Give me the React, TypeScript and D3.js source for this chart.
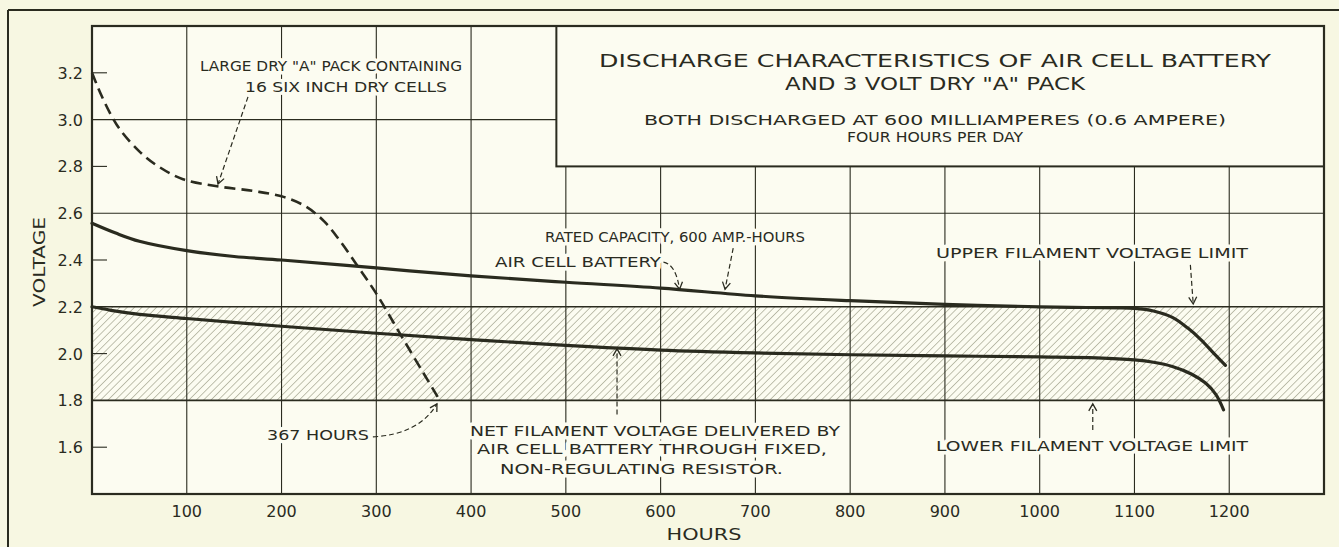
import React from "react"
import * as d3 from "d3"

const W = 1339
const H = 547

// axis
const xTicks = [100, 200, 300, 400, 500, 600, 700, 800, 900, 1000, 1100, 1200]
const yLabels = [1.6, 1.8, 2.0, 2.2, 2.4, 2.6, 2.8, 3.0, 3.2]
const gridVolts = [1.8, 2.2, 2.6, 3.0]
const shortTickVolts = [1.6, 2.0, 2.4, 2.8, 3.2]

// air cell battery (upper solid)
const airCellHours = [0, 25, 50, 100, 150, 200, 300, 400, 500, 600, 700, 800, 900, 1000, 1050, 1100, 1120, 1140, 1156, 1170, 1184, 1196]
const airCellVolts = [2.557, 2.515, 2.48, 2.44, 2.415, 2.4, 2.366, 2.332, 2.305, 2.28, 2.247, 2.226, 2.21, 2.2, 2.197, 2.193, 2.182, 2.155, 2.11, 2.06, 2.0, 1.95]

// net filament voltage (lower solid)
const netHours = [0, 20, 50, 100, 200, 300, 400, 500, 600, 700, 800, 900, 1000, 1060, 1100, 1120, 1140, 1160, 1175, 1186, 1194]
const netVolts = [2.2, 2.185, 2.168, 2.15, 2.117, 2.087, 2.06, 2.035, 2.015, 2.003, 1.995, 1.99, 1.986, 1.982, 1.973, 1.963, 1.945, 1.913, 1.874, 1.825, 1.76]

// dry "A" pack (dashed)
const dryHours = [0, 5, 10, 19, 30, 51, 70, 96, 132, 170, 200, 225, 245, 262, 281, 301, 325, 350, 367]
const dryVolts = [3.2, 3.15, 3.103, 3.028, 2.955, 2.86, 2.8, 2.745, 2.715, 2.695, 2.672, 2.63, 2.565, 2.48, 2.37, 2.25, 2.085, 1.915, 1.8]

const ink = "#2a2b1f"
const paper = "#f7f7e2"
const plotBg = "#fcfcf1"
const font = "DejaVu Sans, sans-serif"

const x = d3.scaleLinear().domain([0, 1300]).range([92, 1324])
const y = d3.scaleLinear().domain([1.4, 3.4]).range([494, 26])

const line = d3
  .line<[number, number]>()
  .x((d) => x(d[0]))
  .y((d) => y(d[1]))
  .curve(d3.curveCatmullRom.alpha(0.5))

const zip = (a: number[], b: number[]) => a.map((v, i) => [v, b[i]] as [number, number])

// annotation arrows, in data units: [from, (control), to]
const straightArrows: [number, number][][] = [
  [[164.6, 3.097], [133, 2.725]],
  [[676.6, 2.451], [668, 2.275]],
  [[1159, 2.379], [1162, 2.212]],
  [[1056, 1.674], [1056, 1.785]],
  [[554, 1.74], [554, 2.02]],
]
const curvedArrows: [number, number][][] = [
  [[603, 2.391], [616, 2.382], [620, 2.275]],
  [[296.4, 1.644], [345, 1.655], [364, 1.785]],
]

const labels = [
  { t: 'LARGE DRY "A" PACK CONTAINING', x: 200, y: 71, len: 262, size: 14 },
  { t: "16 SIX INCH DRY CELLS", x: 245, y: 92, len: 202, size: 14 },
  { t: "RATED CAPACITY, 600 AMP.-HOURS", x: 545, y: 242, len: 260, size: 14 },
  { t: "AIR CELL BATTERY", x: 495, y: 267, len: 166, size: 14 },
  { t: "UPPER FILAMENT VOLTAGE LIMIT", x: 936, y: 258, len: 312, size: 14 },
  { t: "LOWER FILAMENT VOLTAGE LIMIT", x: 936, y: 451, len: 312, size: 14 },
  { t: "367 HOURS", x: 267, y: 440, len: 102, size: 14 },
  { t: "NET FILAMENT VOLTAGE DELIVERED BY", x: 470, y: 436, len: 370, size: 14 },
  { t: "AIR CELL BATTERY THROUGH FIXED,", x: 477, y: 454, len: 350, size: 14 },
  { t: "NON-REGULATING RESISTOR.", x: 500, y: 474, len: 283, size: 14 },
]

const titleLines = [
  { t: "DISCHARGE CHARACTERISTICS OF AIR CELL BATTERY", y: 67, len: 672, size: 17 },
  { t: 'AND 3 VOLT DRY "A" PACK', y: 90, len: 300, size: 17 },
  { t: "BOTH DISCHARGED AT 600 MILLIAMPERES (0.6 AMPERE)", y: 125, len: 582, size: 14 },
  { t: "FOUR HOURS PER DAY", y: 142, len: 176, size: 14 },
]

const App = () => {
  const boxLeft = x(490)
  const boxBottom = y(2.8)
  const cx = 935

  return (
    <svg
      width={W}
      height={H}
      style={{ position: "fixed", left: 0, top: 0, display: "block", background: paper }}
      fontFamily={font}
    >
      <defs>
        <pattern id="hatch" width="5.2" height="5.2" patternUnits="userSpaceOnUse" patternTransform="rotate(45)">
          <line x1="0" y1="0" x2="0" y2="5.2" stroke="#76785d" strokeWidth="0.9" />
        </pattern>
        <marker id="arr" markerUnits="userSpaceOnUse" markerWidth="14" markerHeight="14" refX="0" refY="0" viewBox="-10 -7 14 14" orient="auto">
          <path d="M-7,-4 L0,0 L-7,4" fill="none" stroke={ink} strokeWidth="1.3" />
        </marker>
      </defs>

      {/* outer frame */}
      <line x1={8} y1={10} x2={W} y2={10} stroke={ink} strokeWidth={2} />
      <line x1={8} y1={10} x2={8} y2={H} stroke={ink} strokeWidth={2} />

      {/* plot background and hatched band */}
      <rect x={x(0)} y={y(3.4)} width={x(1300) - x(0)} height={y(1.4) - y(3.4)} fill={plotBg} />
      <rect x={x(0)} y={y(2.2)} width={x(1300) - x(0)} height={y(1.8) - y(2.2)} fill="url(#hatch)" />

      {/* grid */}
      {xTicks.map((h) => (
        <line key={"gx" + h} x1={x(h)} x2={x(h)} y1={x(h) > boxLeft ? boxBottom : y(3.4)} y2={y(1.4)} stroke={ink} strokeWidth={1.1} />
      ))}
      {gridVolts.map((v) => (
        <line key={"gy" + v} x1={x(0)} x2={v >= 2.8 ? boxLeft : x(1300)} y1={y(v)} y2={y(v)} stroke={ink} strokeWidth={v === 1.8 || v === 2.2 ? 1.6 : 1.1} />
      ))}
      {shortTickVolts.map((v) => (
        <line key={"st" + v} x1={x(0)} x2={x(0) + 15} y1={y(v)} y2={y(v)} stroke={ink} strokeWidth={1.1} />
      ))}

      {/* title box */}
      <rect x={boxLeft} y={y(3.4)} width={x(1300) - boxLeft} height={boxBottom - y(3.4)} fill={plotBg} stroke={ink} strokeWidth={2} />
      {titleLines.map((l) => (
        <text key={l.t} x={cx} y={l.y} textAnchor="middle" fontSize={l.size} fill={ink} textLength={l.len} lengthAdjust="spacingAndGlyphs">
          {l.t}
        </text>
      ))}

      {/* plot frame */}
      <rect x={x(0)} y={y(3.4)} width={x(1300) - x(0)} height={y(1.4) - y(3.4)} fill="none" stroke={ink} strokeWidth={2.2} />

      {/* labels */}
      {labels.map((l) => (
        <text
          key={l.t}
          x={l.x}
          y={l.y}
          fontSize={l.size}
          fill={ink}
          stroke={plotBg}
          strokeWidth={7}
          strokeLinejoin="round"
          paintOrder="stroke"
          textLength={l.len}
          lengthAdjust="spacingAndGlyphs"
        >
          {l.t}
        </text>
      ))}

      {/* curves */}
      <path d={line(zip(airCellHours, airCellVolts)) || ""} fill="none" stroke={ink} strokeWidth={3.2} strokeLinecap="round" />
      <path d={line(zip(netHours, netVolts)) || ""} fill="none" stroke={ink} strokeWidth={3.2} strokeLinecap="round" />
      <path d={line(zip(dryHours, dryVolts)) || ""} fill="none" stroke={ink} strokeWidth={2.6} strokeDasharray="11,6" />

      {/* arrows */}
      {straightArrows.map((a, i) => (
        <line
          key={"sa" + i}
          x1={x(a[0][0])}
          y1={y(a[0][1])}
          x2={x(a[1][0])}
          y2={y(a[1][1])}
          stroke={ink}
          strokeWidth={1.2}
          strokeDasharray="5,3"
          markerEnd="url(#arr)"
        />
      ))}
      {curvedArrows.map((a, i) => (
        <path
          key={"ca" + i}
          d={`M${x(a[0][0])},${y(a[0][1])} Q${x(a[1][0])},${y(a[1][1])} ${x(a[2][0])},${y(a[2][1])}`}
          fill="none"
          stroke={ink}
          strokeWidth={1.2}
          strokeDasharray="5,3"
          markerEnd="url(#arr)"
        />
      ))}

      {/* axes labels */}
      {xTicks.map((h) => (
        <text key={"xl" + h} x={x(h)} y={517} textAnchor="middle" fontSize={16} fill={ink}>
          {h}
        </text>
      ))}
      {yLabels.map((v) => (
        <text key={"yl" + v} x={83} y={y(v) + 6} textAnchor="end" fontSize={16} fill={ink}>
          {v.toFixed(1)}
        </text>
      ))}
      <text x={704} y={540} textAnchor="middle" fontSize={16} fill={ink} textLength={75} lengthAdjust="spacingAndGlyphs">
        HOURS
      </text>
      <text
        transform={`translate(45,${262}) rotate(-90)`}
        textAnchor="middle"
        fontSize={16}
        fill={ink}
        textLength={90}
        lengthAdjust="spacingAndGlyphs"
      >
        VOLTAGE
      </text>
    </svg>
  )
}

export default App
